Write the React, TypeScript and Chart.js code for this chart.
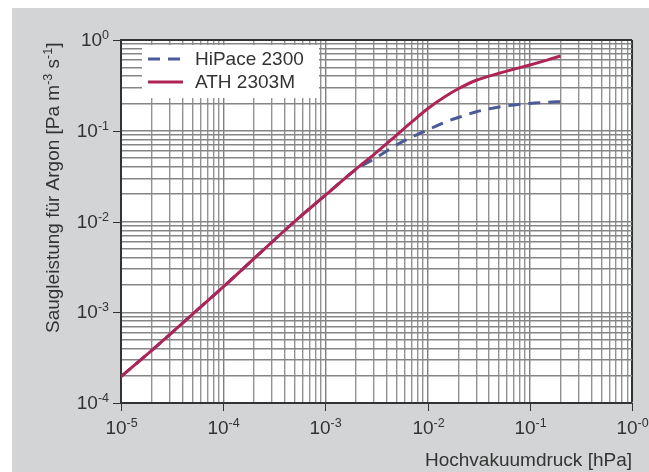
import React, { useEffect, useRef } from 'react';
import { Chart, registerables } from 'chart.js';

Chart.register(...registerables);

// ---- data ----
const pressure = [1e-5, 2e-5, 5e-5, 1e-4, 2e-4, 5e-4, 1e-3, 2e-3, 3e-3, 5e-3, 7e-3, 1e-2, 1.5e-2, 2e-2, 3e-2, 5e-2, 7e-2, 0.1, 0.15, 0.2];
const athSpeed = [1.95e-4, 3.8e-4, 9.5e-4, 1.9e-3, 3.9e-3, 1.0e-2, 1.95e-2, 3.8e-2, 0.055, 0.09, 0.125, 0.175, 0.24, 0.29, 0.36, 0.43, 0.477, 0.53, 0.604, 0.667];
const hipaceSpeed = [1.95e-4, 3.8e-4, 9.5e-4, 1.9e-3, 3.9e-3, 1.0e-2, 1.95e-2, 3.75e-2, 0.049, 0.07, 0.085, 0.102, 0.125, 0.14, 0.162, 0.183, 0.192, 0.2, 0.206, 0.209];
const seriesLabels = ['HiPace 2300', 'ATH 2303M'];

const xDecades = [-5, -4, -3, -2, -1, 0];
const xTickExponents = ['-5', '-4', '-3', '-2', '-1', '-0'];
const yDecades = [-4, -3, -2, -1, 0];
const yTickExponents = ['-4', '-3', '-2', '-1', '0'];
const minorMultipliers = [1, 2, 3, 4, 5, 6, 7, 8, 9];

const xTitle = 'Hochvakuumdruck [hPa]';
const yTitleParts: [string, boolean][] = [
  ['Saugleistung für Argon [Pa m', false],
  ['-3', true],
  [' s', false],
  ['-1', true],
  [']', false],
];

// ---- styles ----
const FONT = '"Liberation Sans", Arial, Helvetica, sans-serif';
const BASE_SIZE = 19;
const SUP_SIZE = 12.5;
const SUP_RAISE = 7;
const TEXT = '#333333';
const BG = '#d3d4d5';
const RED = '#af2457';
const BLUE = '#4c5b97';
const FRAME = '#333333';

function buildTicks(decades: number[]) {
  const ticks: { value: number; major: boolean }[] = [];
  for (let i = 0; i < decades.length - 1; i++) {
    for (const m of minorMultipliers) {
      ticks.push({ value: Number(`${m}e${decades[i]}`), major: m === 1 });
    }
  }
  ticks.push({ value: Number(`1e${decades[decades.length - 1]}`), major: true });
  return ticks;
}

function isDecade(v: number) {
  const l = Math.log10(v);
  return Math.abs(l - Math.round(l)) < 1e-6;
}

function partsWidth(ctx: CanvasRenderingContext2D, parts: [string, boolean][]) {
  let w = 0;
  for (const [t, sup] of parts) {
    ctx.font = `${sup ? SUP_SIZE : BASE_SIZE}px ${FONT}`;
    w += ctx.measureText(t).width;
  }
  return w;
}

function drawParts(ctx: CanvasRenderingContext2D, parts: [string, boolean][], x: number, y: number) {
  let cx = x;
  ctx.textAlign = 'left';
  ctx.textBaseline = 'alphabetic';
  for (const [t, sup] of parts) {
    ctx.font = `${sup ? SUP_SIZE : BASE_SIZE}px ${FONT}`;
    ctx.fillText(t, cx, sup ? y - SUP_RAISE : y);
    cx += ctx.measureText(t).width;
  }
}

const decorPlugin = {
  id: 'decor',
  beforeDraw(chart: any) {
    const { ctx, width, height, chartArea: a } = chart;
    ctx.save();
    ctx.fillStyle = BG;
    ctx.fillRect(0, 0, width, height);
    ctx.fillStyle = '#ffffff';
    ctx.fillRect(a.left, a.top, a.right - a.left, a.bottom - a.top);
    ctx.restore();
  },
  afterDatasetsDraw(chart: any) {
    const { ctx, chartArea: a } = chart;
    const bx = a.left + 21;
    const by = a.top + 5;
    ctx.save();
    ctx.fillStyle = '#ffffff';
    ctx.fillRect(bx, by, 177, 53);
    chart.data.datasets.forEach((ds: any, i: number) => {
      const ly = by + 14 + i * 23;
      ctx.strokeStyle = ds.borderColor;
      ctx.lineWidth = ds.borderWidth;
      ctx.setLineDash(ds.borderDash || []);
      ctx.beginPath();
      ctx.moveTo(bx + 6, ly);
      ctx.lineTo(bx + 41, ly);
      ctx.stroke();
      ctx.setLineDash([]);
      ctx.fillStyle = TEXT;
      ctx.font = `${BASE_SIZE}px ${FONT}`;
      ctx.textAlign = 'left';
      ctx.textBaseline = 'middle';
      ctx.fillText(ds.label, bx + 53, ly + 1);
    });
    ctx.restore();
  },
  afterDraw(chart: any) {
    const { ctx, chartArea: a, scales } = chart;
    const xs = scales.x;
    const ys = scales.y;
    ctx.save();
    ctx.strokeStyle = FRAME;
    ctx.fillStyle = TEXT;
    ctx.lineWidth = 1;
    // x ticks + labels
    xDecades.forEach((d, i) => {
      const px = Math.round(xs.getPixelForValue(Number(`1e${d}`))) + 0.5;
      ctx.beginPath();
      ctx.moveTo(px, a.bottom);
      ctx.lineTo(px, a.bottom + 8);
      ctx.stroke();
      const parts: [string, boolean][] = [['10', false], [xTickExponents[i], true]];
      const w = partsWidth(ctx, parts);
      drawParts(ctx, parts, px - w / 2, a.bottom + 30.5);
    });
    // y ticks + labels
    yDecades.forEach((d, i) => {
      const py = Math.round(ys.getPixelForValue(Number(`1e${d}`))) + 0.5;
      ctx.beginPath();
      ctx.moveTo(a.left - 8, py);
      ctx.lineTo(a.left, py);
      ctx.stroke();
      const parts: [string, boolean][] = [['10', false], [yTickExponents[i], true]];
      const w = partsWidth(ctx, parts);
      drawParts(ctx, parts, a.left - 12 - w, py + 5);
    });
    // x title
    ctx.font = `${BASE_SIZE}px ${FONT}`;
    ctx.textAlign = 'right';
    ctx.textBaseline = 'alphabetic';
    ctx.fillText(xTitle, a.right, a.bottom + 63);
    // y title
    ctx.translate(47, 325);
    ctx.rotate(-Math.PI / 2);
    drawParts(ctx, yTitleParts, 0, 0);
    ctx.restore();
  },
};

export default function App() {
  const ref = useRef<HTMLCanvasElement | null>(null);
  useEffect(() => {
    if (!ref.current) return;
    const gridColor = (axis: 'x' | 'y') => (c: any) => {
      const v = c.tick ? c.tick.value : 0;
      if (Math.abs(v - 1) < 1e-9) return FRAME;
      if (axis === 'x') return isDecade(v) ? '#7e7e7e' : '#929292';
      return '#858585';
    };
    const gridWidth = (c: any) => {
      const v = c.tick ? c.tick.value : 0;
      return Math.abs(v - 1) < 1e-9 ? 2 : 1.4;
    };
    const chart = new Chart(ref.current, {
      type: 'line',
      data: {
        datasets: [
          {
            label: seriesLabels[0],
            data: pressure.map((p, i) => ({ x: p, y: hipaceSpeed[i] })),
            borderColor: BLUE,
            borderWidth: 3,
            borderDash: [12, 8],
            pointRadius: 0,
            fill: false,
            cubicInterpolationMode: 'monotone',
            order: 1,
          },
          {
            label: seriesLabels[1],
            data: pressure.map((p, i) => ({ x: p, y: athSpeed[i] })),
            borderColor: RED,
            borderWidth: 3,
            pointRadius: 0,
            fill: false,
            cubicInterpolationMode: 'monotone',
            order: 0,
          },
        ],
      },
      options: {
        responsive: false,
        animation: false,
        layout: { padding: { left: 109, top: 32, right: 17, bottom: 69 } },
        plugins: { legend: { display: false }, tooltip: { enabled: false } },
        scales: {
          x: {
            type: 'logarithmic',
            min: 1e-5,
            max: 1,
            afterBuildTicks: (s: any) => { s.ticks = buildTicks(xDecades); },
            ticks: { display: false },
            grid: { color: gridColor('x'), lineWidth: gridWidth, drawTicks: false },
            border: { display: true, color: FRAME, width: 2 },
          },
          y: {
            type: 'logarithmic',
            min: 1e-4,
            max: 1,
            afterBuildTicks: (s: any) => { s.ticks = buildTicks(yDecades); },
            ticks: { display: false },
            grid: { color: gridColor('y'), lineWidth: gridWidth, drawTicks: false },
            border: { display: true, color: FRAME, width: 2 },
          },
        },
      },
      plugins: [decorPlugin],
    } as any);
    return () => chart.destroy();
  }, []);
  return (
    <div style={{ position: 'fixed', left: 12, top: 8, width: 637, height: 464 }}>
      <canvas ref={ref} width={637} height={464} style={{ display: 'block' }} />
    </div>
  );
}
